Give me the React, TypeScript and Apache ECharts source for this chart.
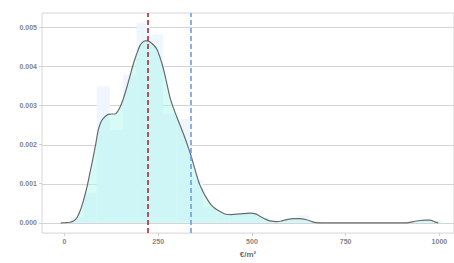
import React, { useEffect, useRef } from "react";
import * as echarts from "echarts";

// Density curve (€/m² vs density)
const densityX = [-10, 0, 15, 24, 33, 41, 50, 59, 68, 77, 84, 90, 97, 103, 110, 117, 126, 135, 142, 148, 157, 166, 175, 184, 192, 201, 208, 215, 222, 228, 237, 246, 255, 264, 272, 281, 290, 299, 308, 317, 326, 335, 344, 353, 361, 370, 379, 388, 400, 415, 430, 445, 468, 495, 510, 521, 535, 548, 566, 580, 592, 610, 625, 646, 660, 672, 690, 800, 912, 930, 948, 962, 975, 989, 997];
const densityY = [0, 0.002, 0.015, 0.045, 0.13, 0.29, 0.55, 0.88, 1.28, 1.7, 2.05, 2.37, 2.57, 2.66, 2.73, 2.77, 2.78, 2.78, 2.85, 2.95, 3.17, 3.45, 3.76, 4.07, 4.3, 4.52, 4.61, 4.65, 4.65, 4.62, 4.55, 4.44, 4.22, 3.93, 3.6, 3.22, 2.95, 2.72, 2.5, 2.28, 2.04, 1.79, 1.5, 1.2, 0.97, 0.79, 0.63, 0.5, 0.38, 0.29, 0.22, 0.21, 0.23, 0.25, 0.23, 0.17, 0.1, 0.05, 0.03, 0.05, 0.08, 0.11, 0.11, 0.08, 0.03, 0.005, 0, 0, 0, 0.03, 0.06, 0.07, 0.07, 0.02, 0].map((v) => v / 1000);

// Histogram
const binStart = [14.5, 50, 85.5, 121, 156.5, 192, 227.5, 263, 298.5, 334, 369.5, 405, 440.5, 476, 511.5, 547, 582.5, 618, 653.5, 901.5, 937, 972.5];
const binHeight = [0.15, 0.75, 3.49, 2.37, 3.79, 5.12, 4.81, 2.78, 2.66, 1.1, 0.4, 0.25, 0.2, 0.26, 0.14, 0.03, 0.1, 0.19, 0.03, 0.02, 0.06, 0.06].map((v) => v / 1000);
const binWidth = 35.5;

// Reference lines
const medianValue = 221;
const meanValue = 336;

// Ticks
const xTicks = [0, 250, 500, 750, 1000];
const yTicks = [0, 0.001, 0.002, 0.003, 0.004, 0.005];

export default function App() {
  const ref = useRef<HTMLDivElement>(null);
  useEffect(() => {
    if (!ref.current) return;
    const chart = echarts.init(ref.current, null, { renderer: "svg" });
    const labelStyle = { color: "#858585", fontSize: 7, fontWeight: "bold" as const, fontFamily: "Liberation Sans, Arial, sans-serif" };
    chart.setOption({
      animation: false,
      grid: { left: 42, top: 13, right: -1, bottom: 24, show: true, borderColor: "#d6d6d6", borderWidth: 1, backgroundColor: "transparent" },
      xAxis: {
        type: "value",
        min: -60,
        max: 1039,
        axisLine: { show: false, onZero: false },
        splitLine: { show: false },
        axisTick: { show: true, length: 3, lineStyle: { color: "#d0d0d0" }, customValues: xTicks },
        axisLabel: { ...labelStyle, margin: 5, customValues: xTicks, formatter: (v: number) => String(v) },
        name: "€/m²",
        nameLocation: "middle",
        nameGap: 16,
        nameTextStyle: { color: "#707070", fontSize: 8, fontWeight: "bold", fontFamily: "Liberation Sans, Arial, sans-serif" },
      },
      yAxis: {
        type: "value",
        min: -0.000262,
        max: 0.00536,
        axisLine: { show: false, onZero: false },
        splitLine: { show: false },
        axisTick: { show: true, length: 3, lineStyle: { color: "#d0d0d0" }, customValues: yTicks },
        axisLabel: { ...labelStyle, margin: 5, customValues: yTicks, formatter: (v: number) => v.toFixed(3) },
      },
      series: [
        {
          type: "custom",
          silent: true,
          z: 0,
          renderItem: (params: any, api: any) => {
            const t = api.value(0);
            const p = api.coord([0, t]);
            const cs = params.coordSys;
            return {
              type: "line",
              shape: { x1: cs.x, y1: Math.round(p[1]) + 0.5, x2: cs.x + cs.width, y2: Math.round(p[1]) + 0.5 },
              style: { stroke: "#d4d4d4", lineWidth: 1 },
            };
          },
          encode: { x: 1, y: 0 },
          data: yTicks.map((t) => [t, 0]),
        },
        {
          type: "custom",
          silent: true,
          z: 1,
          renderItem: (params: any, api: any) => {
            const x0 = api.value(0);
            const x1 = api.value(1);
            const h = api.value(2);
            const p0 = api.coord([x0, h]);
            const p1 = api.coord([x1, 0]);
            return {
              type: "rect",
              shape: { x: p0[0], y: p0[1], width: p1[0] - p0[0], height: p1[1] - p0[1] },
              style: { fill: "#eff6ff" },
            };
          },
          data: binStart.map((s, i) => [s, s + binWidth, binHeight[i]]),
        },
        {
          type: "line",
          z: 3,
          smooth: 0.3,
          symbol: "none",
          lineStyle: { color: "#6a6a6a", width: 1.2 },
          areaStyle: { color: "rgba(170,246,236,0.68)", origin: 0 },
          data: densityX.map((x, i) => [x, densityY[i]]),
          markLine: {
            silent: true,
            symbol: "none",
            label: { show: false },
            data: [
              { xAxis: medianValue, lineStyle: { color: "#b5282d", width: 1.6, type: [5, 3] } },
              { xAxis: meanValue, lineStyle: { color: "#6a9cf7", width: 1.6, type: [5, 3] } },
            ],
          },
        },
      ],
    });
    return () => chart.dispose();
  }, []);
  return <div ref={ref} style={{ position: "fixed", left: 0, top: 0, width: 454, height: 263, background: "#fff" }} />;
}
